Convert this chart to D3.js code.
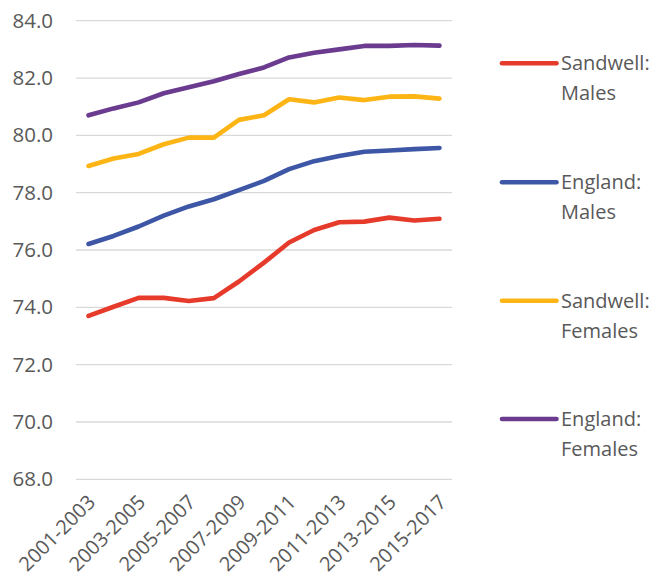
<!DOCTYPE html>
<html>
<head>
<meta charset="utf-8">
<script src="https://cdn.jsdelivr.net/npm/d3@7"></script>
<style>
  html, body { margin: 0; padding: 0; background: #fff; }
  svg { display: block; }
  text { font-family: "Open Sans", sans-serif; fill: #595959; }
</style>
</head>
<body>
<svg id="chart" width="656" height="584"></svg>
<script>
// Life expectancy at birth, three-year rolling periods
const periods = [
  "2001-2003","2002-2004","2003-2005","2004-2006","2005-2007","2006-2008","2007-2009",
  "2008-2010","2009-2011","2010-2012","2011-2013","2012-2014","2013-2015","2014-2016","2015-2017"
];
const sandwellMales   = [73.7, 74.02, 74.33, 74.33, 74.22, 74.32, 74.9, 75.56, 76.26, 76.7, 76.97, 76.99, 77.13, 77.03, 77.09];
const englandMales    = [76.21, 76.49, 76.82, 77.2, 77.52, 77.77, 78.09, 78.41, 78.82, 79.1, 79.28, 79.43, 79.47, 79.52, 79.56];
const sandwellFemales = [78.93, 79.19, 79.35, 79.69, 79.92, 79.92, 80.54, 80.7, 81.26, 81.15, 81.32, 81.23, 81.35, 81.36, 81.28];
const englandFemales  = [80.7, 80.94, 81.15, 81.47, 81.68, 81.89, 82.14, 82.37, 82.72, 82.88, 83.0, 83.12, 83.12, 83.15, 83.13];
const yTicks = [68, 70, 72, 74, 76, 78, 80, 82, 84];
const xTickLabels = periods.filter((d, i) => i % 2 === 0);

const seriesNames  = ["Sandwell: Males", "England: Males", "Sandwell: Females", "England: Females"];
const seriesValues = [sandwellMales, englandMales, sandwellFemales, englandFemales];
const seriesColors = ["#E63A2B", "#3D57A6", "#FDB516", "#6A3B8F"];

const svg = d3.select("#chart");
const plot = { left: 76, right: 452, top: 20.7, bottom: 479.3 };

const x = d3.scaleBand().domain(periods).range([plot.left, plot.right]);
const y = d3.scaleLinear().domain([68, 84]).range([plot.bottom, plot.top]);

// horizontal gridlines
svg.append("g")
  .selectAll("line")
  .data(yTicks)
  .join("line")
  .attr("x1", plot.left).attr("x2", plot.right)
  .attr("y1", d => y(d)).attr("y2", d => y(d))
  .attr("stroke", "#d9d9d9").attr("stroke-width", 1.3);

// y axis labels
const yAxis = svg.append("g")
  .attr("transform", `translate(${plot.left - 23},0)`)
  .call(d3.axisLeft(y).tickValues(yTicks).tickFormat(d3.format(".1f")).tickSize(0).tickPadding(0));
yAxis.select(".domain").remove();
yAxis.selectAll("text")
  .attr("font-size", 20.5)
  .attr("fill", "#595959")
  .attr("font-family", "'Open Sans', sans-serif");

// x axis labels, rotated
const xAxis = svg.append("g")
  .attr("transform", `translate(0,${plot.bottom})`)
  .call(d3.axisBottom(x).tickValues(xTickLabels).tickSize(0).tickPadding(0));
xAxis.select(".domain").remove();
xAxis.selectAll("text")
  .attr("font-size", 20)
  .attr("fill", "#595959")
  .attr("font-family", "'Open Sans', sans-serif")
  .attr("text-anchor", "end")
  .attr("dy", null)
  .attr("transform", "translate(8,24) rotate(-45)");

// series lines
const line = d3.line()
  .x((d, i) => x(periods[i]) + x.bandwidth() / 2)
  .y(d => y(d));

svg.append("g")
  .selectAll("path")
  .data(seriesValues)
  .join("path")
  .attr("d", line)
  .attr("fill", "none")
  .attr("stroke", (d, i) => seriesColors[i])
  .attr("stroke-width", 4.6)
  .attr("stroke-linejoin", "round")
  .attr("stroke-linecap", "round");

// legend
const legend = svg.append("g");
const legendY = [63.3, 182.3, 300.7, 419];
seriesNames.forEach((name, i) => {
  const g = legend.append("g").attr("transform", `translate(0,${legendY[i]})`);
  g.append("line")
    .attr("x1", 502).attr("x2", 556.5)
    .attr("stroke", seriesColors[i]).attr("stroke-width", 4.6)
    .attr("stroke-linecap", "round");
  const parts = name.split(" ");
  const t = g.append("text").attr("x", 561).attr("font-size", 20);
  t.append("tspan").attr("x", 561).attr("y", 7).text(parts[0]);
  t.append("tspan").attr("x", 561).attr("y", 37).text(parts[1]);
});
</script>
</body>
</html>
